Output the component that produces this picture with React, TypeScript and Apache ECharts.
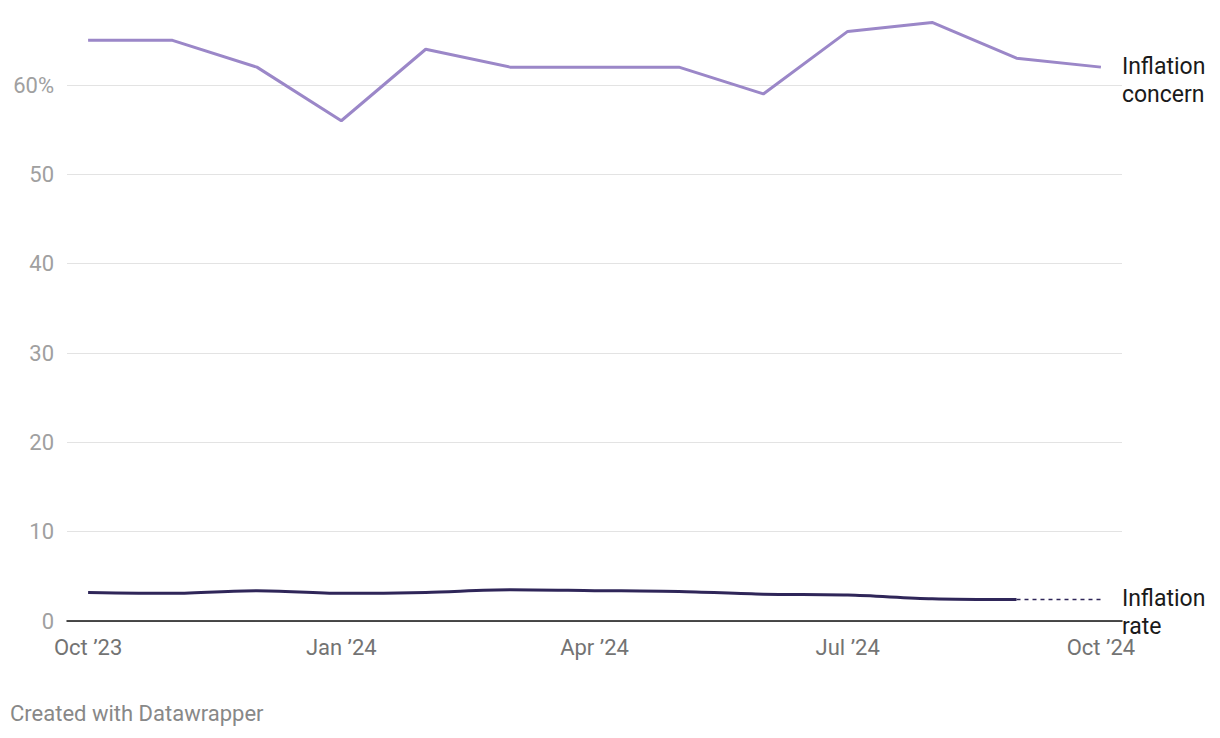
import React, { useEffect, useRef } from "react";
import * as echarts from "echarts";

const months = ["Oct ’23", "Nov", "Dec", "Jan ’24", "Feb", "Mar", "Apr ’24", "May", "Jun", "Jul ’24", "Aug", "Sep", "Oct ’24"];
const concern = [65, 65, 62, 56, 64, 62, 62, 62, 59, 66, 67, 63, 62];
const rate = [3.2, 3.1, 3.4, 3.1, 3.2, 3.5, 3.4, 3.3, 3.0, 2.9, 2.5, 2.4];
const rateProjection = [2.4, 2.4];
const xLabelIdx = [0, 3, 6, 9, 12];
const yTicks = [0, 10, 20, 30, 40, 50, 60];

export default function App() {
  const ref = useRef<HTMLDivElement>(null);
  useEffect(() => {
    const chart = echarts.init(ref.current!, null, { renderer: "svg" });
    const font = "Roboto, 'Noto Sans', sans-serif";
    const unit = (621 - 85) / 60;
    const yMax = 68;
    chart.setOption({
      animation: false,
      textStyle: { fontFamily: font },
      grid: { left: 67, right: 98, top: 621 - yMax * unit, bottom: 738 - 621 },
      xAxis: {
        type: "value",
        min: -0.25,
        max: 12.25,
        axisLine: { show: true, onZero: false, lineStyle: { color: "#111", width: 1.5 } },
        axisTick: { show: false },
        splitLine: { show: false },
        axisLabel: {
          customValues: xLabelIdx,
          formatter: (v: number) => months[Math.round(v)],
          color: "#737373",
          fontSize: 22,
          fontFamily: font,
          margin: 15,
        },
      },
      yAxis: {
        type: "value",
        min: 0,
        max: yMax,
        interval: 10,
        axisLine: { show: false },
        axisTick: { show: false },
        splitLine: { show: true, showMaxLine: false, lineStyle: { color: "#e3e3e3", width: 1 } },
        axisLabel: {
          showMaxLabel: false,
          formatter: (v: number) => (v === 60 ? "60%" : yTicks.includes(v) ? String(v) : ""),
          color: "#a0a0a0",
          fontSize: 22,
          fontFamily: font,
          margin: 13,
          verticalAlign: "middle",
        },
      },
      series: [
        {
          name: "Inflation concern",
          type: "line",
          data: concern.map((v, i) => [i, v]),
          symbol: "none",
          lineStyle: { color: "#9b87c8", width: 3 },
          endLabel: {
            show: true,
            formatter: "Inflation\nconcern",
            color: "#1a1a1a",
            fontSize: 23,
            fontFamily: font,
            lineHeight: 28,
            distance: 21,
            offset: [0, 13],
            align: "left",
          },
          z: 3,
        },
        {
          name: "Inflation rate",
          type: "line",
          data: rate.map((v, i) => [i, v]),
          symbol: "none",
          smooth: 0.3,
          lineStyle: { color: "#2f2659", width: 3 },
          z: 3,
        },
        {
          name: "Inflation rate projection",
          type: "line",
          data: rateProjection.map((v, i) => [11 + i, v]),
          symbol: "none",
          lineStyle: { color: "#2f2659", width: 1.5, type: [4, 4] },
          endLabel: {
            show: true,
            formatter: "Inflation\nrate",
            color: "#1a1a1a",
            fontSize: 23,
            fontFamily: font,
            lineHeight: 28,
            distance: 21,
            offset: [0, 13],
            align: "left",
          },
          z: 3,
        },
      ],
      graphic: [
        {
          type: "text",
          left: 10,
          top: 702,
          style: { text: "Created with Datawrapper", fill: "#888", fontSize: 22, fontFamily: font },
        },
      ],
    });
    return () => chart.dispose();
  }, []);
  return <div ref={ref} style={{ position: "absolute", left: 0, top: 0, width: 1220, height: 738 }} />;
}
